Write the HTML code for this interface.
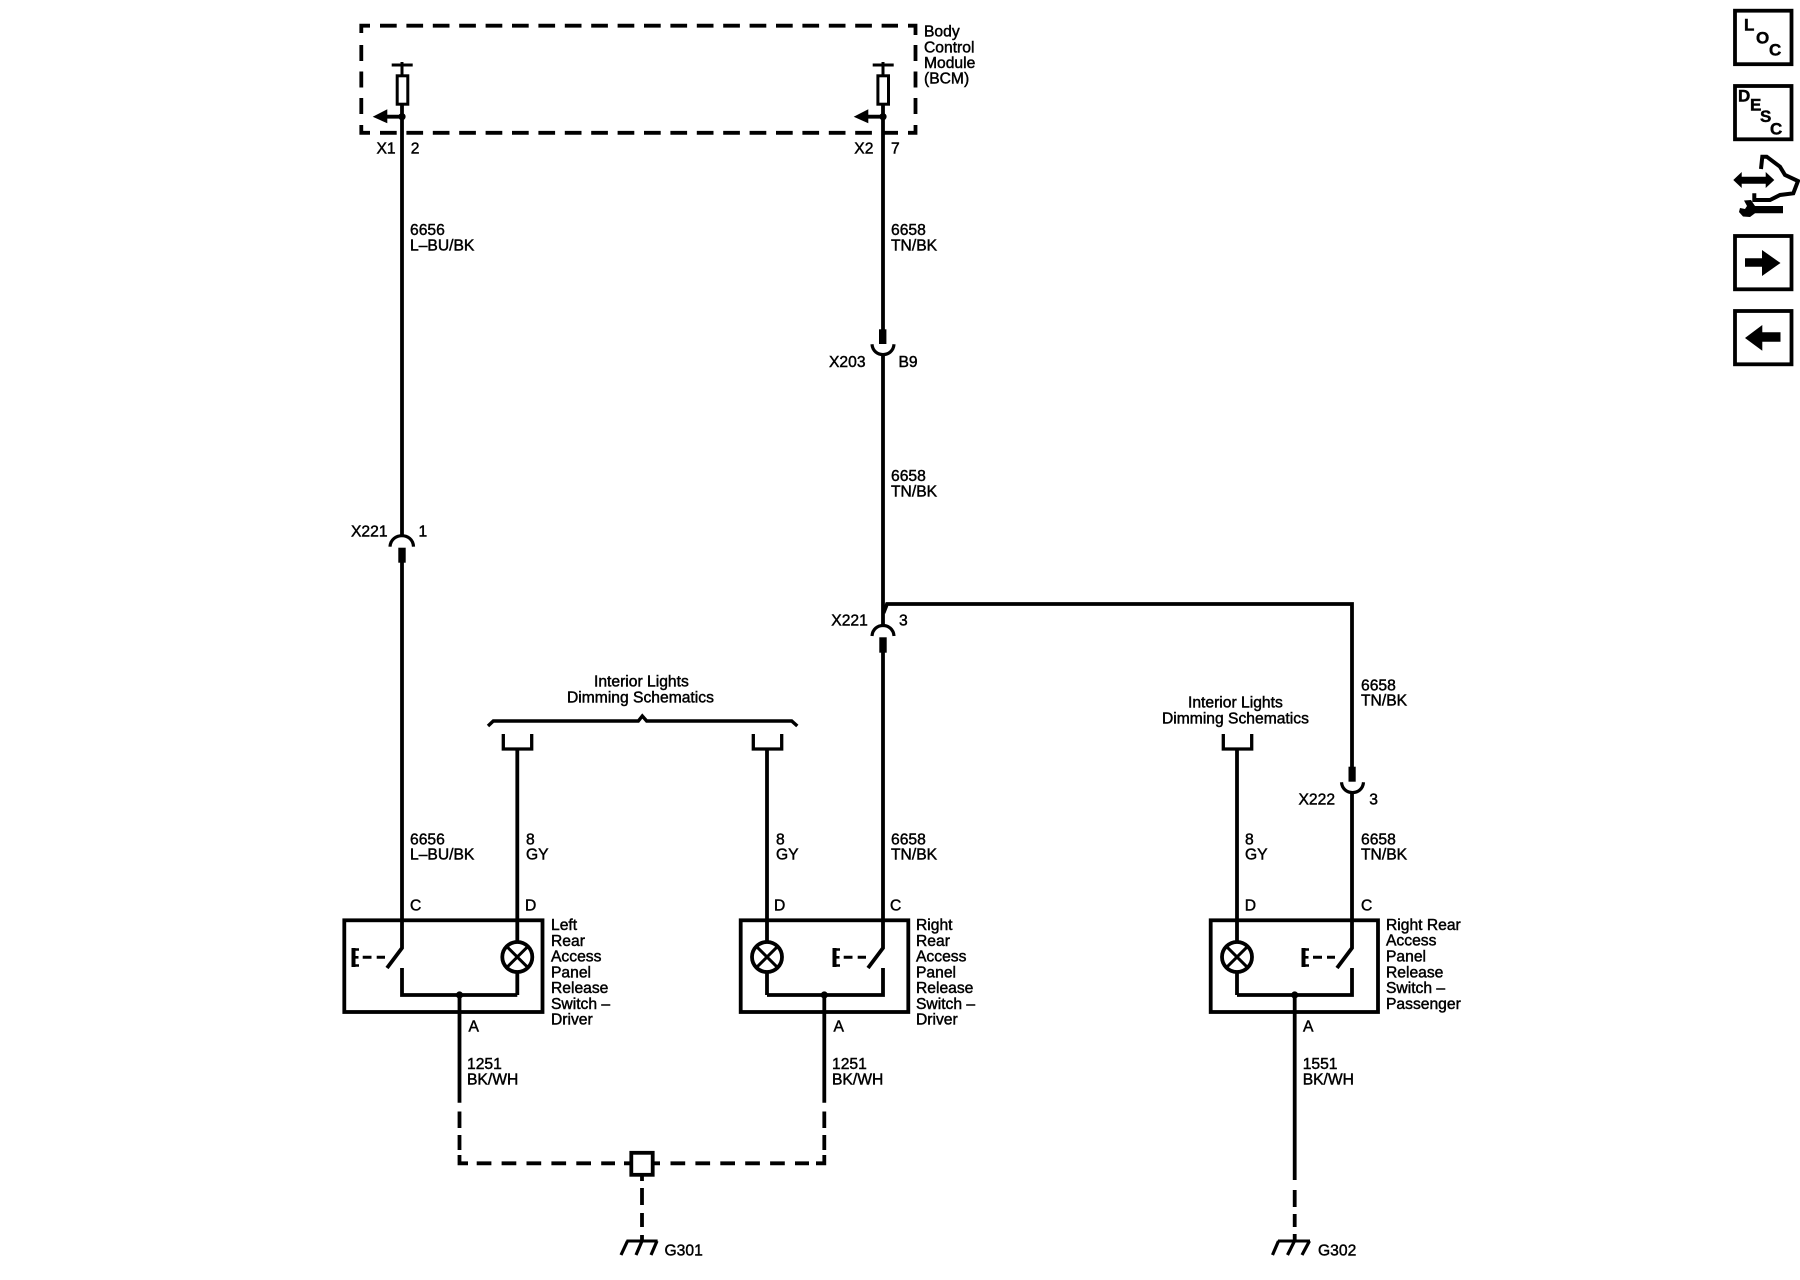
<!DOCTYPE html>
<html><head><meta charset="utf-8"><title>Rear Access Panel Release Schematic</title>
<style>html,body{margin:0;padding:0;background:#fff}svg{display:block}
text{font-family:"Liberation Sans",Arial,sans-serif;font-size:15.65px;fill:#000;stroke:#000;stroke-width:.45}
.i{font-weight:bold;font-size:17px}</style></head>
<body>
<svg xmlns="http://www.w3.org/2000/svg" width="1800" height="1280" viewBox="0 0 1800 1280">
<rect width="1800" height="1280" fill="#fff"/>
<g fill="none" stroke="#000" stroke-width="3.8">
<!-- BCM dashed box -->
<path d="M361.3 33V25.7H370M915.5 35V25.7H908M361.3 125V132.8H370M915.5 125V132.8H908"/>
<path d="M380 25.7H898M380 132.8H898" stroke-dasharray="16.7 9.7"/>
<path d="M361.3 45V115M915.5 45V115" stroke-dasharray="16 10.5"/>
<!-- wires -->
<path d="M402 105V536.7M402 562V932" />
<path d="M883 105V330M883 354V626M883 652V932"/>
<path d="M883.5 613L887 604H1352V767"/>
<path d="M1352 792V932"/>
<!-- pins -->
<path d="M391.7 65H412.7M402 62V75M872.7 65H893.7M883 62V75" stroke-width="3"/>
<rect x="397.2" y="75.8" width="10.6" height="28.4" stroke-width="3"/>
<rect x="877.9" y="75.8" width="10.6" height="28.4" stroke-width="3"/>
<path d="M385 116.7H402M866 116.7H883"/>
<!-- connectors -->
<path d="M390 546.7C391 532 413 532 413.5 546.7M872 636C873 622 893 622 894 636" stroke-width="3.2"/>
<path d="M872 344.3C873 358 893 358 894 344.3M1341.5 782.3C1342.5 796 1362.5 796 1363.5 782.3" stroke-width="3.2"/>
<!-- brace -->
<path d="M488 726L493.3 721H638.3L642.3 716L646.7 721H791.7L797.3 726" stroke-width="3.4"/>
<!-- U connectors & gray wires -->
<path d="M503.3 734V749H531.7V734M753.3 734V749H781.7V734M1223.3 734V749H1251.7V734" stroke-width="3.3"/>
<path d="M517.3 749V941M767 749V941M1237 749V941M517.3 973V995M767 973V995M1237 973V995"/>
<!-- boxes -->
<rect x="344.3" y="920.3" width="198.2" height="91.7"/>
<rect x="740.7" y="920.3" width="167.6" height="91.7"/>
<rect x="1210.7" y="920.3" width="167.3" height="91.7"/>
<!-- lamps -->
<circle cx="517.3" cy="957" r="15"/><circle cx="767" cy="957" r="15"/><circle cx="1237" cy="957" r="15"/>
<path d="M506.7 946.4L527.9 967.6M527.9 946.4L506.7 967.6M756.4 946.4L777.6 967.6M777.6 946.4L756.4 967.6M1226.4 946.4L1247.6 967.6M1247.6 946.4L1226.4 967.6" stroke-width="3"/>
<!-- switches -->
<path d="M402 932V948L387 968M883 932V948L868 968M1352 932V948L1337 968"/>
<path d="M402 968V995H517.3M883 968V995H767M1352 968V995H1237"/>
<path d="M353.5 948V967M834.5 948V967M1303.5 948V967" stroke-width="4"/>
<path d="M353 949.5H359M353 957.3H358.5M353 965.5H359M834 949.5H840M834 957.3H839.5M834 965.5H840M1303 949.5H1309M1303 957.3H1308.5M1303 965.5H1309" stroke-width="2.6"/>
<path d="M362.7 957.3H371.5M376.7 957.3H385M843.7 957.3H852.5M857.7 957.3H866M1313 957.3H1322M1327 957.3H1335" stroke-width="3"/>
<!-- ground leads -->
<path d="M459.5 995V1102.7M824.3 995V1102.7M1294.7 995V1180"/>
<path d="M459.5 1111.5V1128M459.5 1135V1150M824.3 1111.5V1128M824.3 1135V1150"/>
<path d="M459.5 1155V1163.3H468M824.3 1155V1163.3H816"/>
<path d="M476.7 1163.3H615" stroke-dasharray="14.7 10.2"/>
<path d="M624 1163.3H630M653 1163.3H660"/>
<path d="M670.5 1163.3H809" stroke-dasharray="14.7 10.2"/>
<rect x="631.3" y="1152.8" width="21.4" height="22"/>
<path d="M642 1175V1181M642 1188V1205M642 1213V1227M642 1235V1241M1294.7 1190V1207M1294.7 1214V1227M1294.7 1234V1241"/>
<!-- grounds -->
<path d="M626.5 1241H657.6M1278 1241H1310" stroke-width="3"/>
<path d="M627.5 1241L621 1255M642 1241L636 1255M657 1241L651 1255M1278.5 1241L1272.5 1255M1294.5 1241L1287.5 1255M1309.5 1241L1302 1255" stroke-width="3.2"/>
<!-- icon boxes -->
<rect x="1735" y="10.7" width="56.5" height="53.5"/>
<rect x="1735" y="86" width="56.5" height="53.3"/>
<rect x="1735" y="236" width="56.5" height="53.3"/>
<rect x="1735" y="311" width="56.5" height="53.3"/>
<path d="M1761 169L1762.3 156.7H1766.7L1780 166.7L1785 175L1798 181L1793.3 193.3L1780 195L1770 200H1754.3V193.3" stroke-width="4"/>
</g>
<g fill="#000">
<!-- arrows, dots, blocks -->
<path d="M372.7 116.7L387.3 109.3V123.3ZM853.7 116.7L868.3 109.3V123.3Z"/>
<circle cx="402" cy="116.7" r="3.6"/><circle cx="883" cy="116.7" r="3.6"/>
<circle cx="459.5" cy="995" r="3.6"/><circle cx="824.3" cy="995" r="3.6"/><circle cx="1294.7" cy="995" r="3.6"/>
<rect x="398.3" y="547.7" width="7.4" height="15"/>
<rect x="879.3" y="637.3" width="7.4" height="15.4"/>
<rect x="879" y="329.3" width="7.4" height="14.7"/>
<rect x="1348.5" y="766.7" width="7.2" height="15"/>
<!-- icon glyphs -->
<path d="M1745 258.3H1762V250L1780.5 263L1762 276V266.7H1745Z"/>
<path d="M1780.5 332.3H1762.3V325L1745 338L1762.3 350.7V341.7H1780.5Z"/>
<path d="M1733.3 180L1741.7 172V176.7H1765.7V172L1774.3 180L1765.7 188V183.7H1741.7V188Z"/>
<path d="M1744 200.5L1751 200L1755 206H1783V213.3H1755L1750 217L1743 216.5L1739 212L1740 208L1745 209L1747 206Z"/>
</g>
<!-- BCM label -->
<text x="924" y="36.5">Body</text><text x="924" y="52.3">Control</text><text x="924" y="68">Module</text><text x="924" y="83.7">(BCM)</text>
<text x="376.5" y="153.3">X1</text><text x="410.7" y="153.3">2</text>
<text x="854.3" y="153.3">X2</text><text x="891" y="153.3">7</text>
<text x="410" y="235">6656</text><text x="410" y="250.7">L–BU/BK</text>
<text x="891" y="235">6658</text><text x="891" y="250.7">TN/BK</text>
<text x="829" y="367">X203</text><text x="898.5" y="367">B9</text>
<text x="891" y="481">6658</text><text x="891" y="496.7">TN/BK</text>
<text x="351" y="536.7">X221</text><text x="418.5" y="536.7">1</text>
<text x="831.3" y="625.7">X221</text><text x="899" y="625.7">3</text>
<text x="1361" y="690.3">6658</text><text x="1361" y="705.7">TN/BK</text>
<text x="1298.5" y="804.3">X222</text><text x="1369.3" y="804.3">3</text>
<text x="594" y="686.7">Interior Lights</text><text x="567" y="702.7">Dimming Schematics</text>
<text x="1188" y="707.7">Interior Lights</text><text x="1162" y="723.3">Dimming Schematics</text>
<text x="410" y="844.3">6656</text><text x="410" y="859.5">L–BU/BK</text>
<text x="526" y="844.3">8</text><text x="526" y="859.5">GY</text>
<text x="776" y="844.3">8</text><text x="776" y="859.5">GY</text>
<text x="891" y="844.3">6658</text><text x="891" y="859.5">TN/BK</text>
<text x="1245" y="844.3">8</text><text x="1245" y="859.5">GY</text>
<text x="1361" y="844.3">6658</text><text x="1361" y="859.5">TN/BK</text>
<text x="410" y="910.7">C</text><text x="525" y="910.7">D</text>
<text x="774" y="910.7">D</text><text x="890" y="910.7">C</text>
<text x="1244.7" y="910.7">D</text><text x="1361" y="910.7">C</text>
<text x="551" y="930">Left</text><text x="551" y="946">Rear</text><text x="551" y="961.7">Access</text><text x="551" y="977.3">Panel</text><text x="551" y="993">Release</text><text x="551" y="1009">Switch –</text><text x="551" y="1024.5">Driver</text>
<text x="916" y="930">Right</text><text x="916" y="946">Rear</text><text x="916" y="961.7">Access</text><text x="916" y="977.3">Panel</text><text x="916" y="993">Release</text><text x="916" y="1009">Switch –</text><text x="916" y="1024.5">Driver</text>
<text x="1386" y="930">Right Rear</text><text x="1386" y="945.7">Access</text><text x="1386" y="961.7">Panel</text><text x="1386" y="977.3">Release</text><text x="1386" y="993">Switch –</text><text x="1386" y="1009">Passenger</text>
<text x="468.5" y="1031.7">A</text><text x="833.5" y="1031.7">A</text><text x="1303" y="1031.7">A</text>
<text x="467" y="1069">1251</text><text x="467" y="1084.3">BK/WH</text>
<text x="832" y="1069">1251</text><text x="832" y="1084.3">BK/WH</text>
<text x="1302.7" y="1069">1551</text><text x="1302.7" y="1084.3">BK/WH</text>
<text x="664.5" y="1255.6">G301</text><text x="1318" y="1255.6">G302</text>
<!-- icon letters -->
<text class="i" x="1744" y="30.7">L</text><text class="i" x="1756" y="43.3">O</text><text class="i" x="1769" y="55.7">C</text>
<text class="i" x="1738" y="101.7">D</text><text class="i" x="1750" y="110.7">E</text><text class="i" x="1760" y="122">S</text><text class="i" x="1770" y="134.3">C</text>
</svg>
</body></html>
